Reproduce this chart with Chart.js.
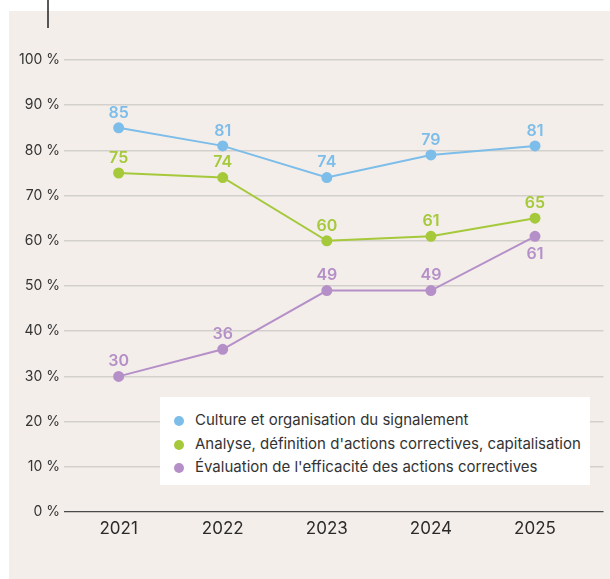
<!DOCTYPE html>
<html>
<head>
<meta charset="utf-8">
<script src="https://cdn.jsdelivr.net/npm/chart.js@4.4.1/dist/chart.umd.min.js"></script>
<style>
  html, body { margin: 0; padding: 0; background: #fff; }
  #wrap { position: relative; width: 610px; height: 579px; }
  #legend {
    position: absolute; left: 160px; top: 397px; width: 430px; height: 88px;
    background: #fff; box-sizing: border-box; padding: 11px 0 0 14px;
    font-family: Inter, "Noto Sans", sans-serif; font-size: 15px; color: #333;
  }
  #legend div { height: 23.5px; line-height: 23.5px; white-space: nowrap; }
  #legend span {
    display: inline-block; width: 10px; height: 10px; border-radius: 50%;
    margin-right: 11px; vertical-align: -1px;
  }
</style>
</head>
<body>
<div id="wrap">
  <canvas id="chart" width="610" height="579"></canvas>
  <div id="legend"></div>
</div>
<script>
const years = [2021, 2022, 2023, 2024, 2025];
const seriesNames = [
    'Culture et organisation du signalement',
    "Analyse, définition d'actions correctives, capitalisation",
    "Évaluation de l'efficacité des actions correctives"
];
const culture = [85, 81, 74, 79, 81];
const analyse = [75, 74, 60, 61, 65];
const evaluation = [30, 36, 49, 49, 61];
const yTicks = [0, 10, 20, 30, 40, 50, 60, 70, 80, 90, 100];
const colors = ['#7dbde9', '#a5c93a', '#b590c8'];

const FONT = 'Inter, "Noto Sans", sans-serif';

function toPoints(values) {
    return values.map((v, i) => ({ x: years[i], y: v }));
}

// beige panel + little black tick at top
const panelPlugin = {
    id: 'panel',
    beforeDraw(chart) {
        const ctx = chart.ctx;
        ctx.save();
        ctx.fillStyle = '#f3eeea';
        ctx.fillRect(9, 11, 601, 568);
        ctx.strokeStyle = '#222';
        ctx.lineWidth = 1.5;
        ctx.beginPath();
        ctx.moveTo(48, 0);
        ctx.lineTo(48, 28);
        ctx.stroke();
        ctx.restore();
    }
};

// value labels above points (below when crowded by a series just above)
const valueLabels = {
    id: 'valueLabels',
    afterDatasetsDraw(chart) {
        const ctx = chart.ctx;
        const all = chart.data.datasets.map(d => d.data.map(p => p.y));
        ctx.save();
        ctx.font = '600 16px ' + FONT;
        ctx.textAlign = 'center';
        ctx.textBaseline = 'middle';
        chart.data.datasets.forEach((ds, di) => {
            const meta = chart.getDatasetMeta(di);
            ctx.fillStyle = ds.borderColor;
            meta.data.forEach((pt, i) => {
                const v = all[di][i];
                const crowded = all.some((vals, j) => j !== di && vals[i] > v && vals[i] - v < 5);
                const y = crowded ? pt.y + 18 : pt.y - 15;
                ctx.fillText(String(v), pt.x, y);
            });
        });
        ctx.restore();
    }
};

const datasets = [culture, analyse, evaluation].map((vals, i) => ({
    label: seriesNames[i],
    data: toPoints(vals),
    borderColor: colors[i],
    backgroundColor: colors[i],
    borderWidth: 2,
    pointRadius: 4.5,
    pointHoverRadius: 4.5,
    tension: 0
}));

const chart = new Chart(document.getElementById('chart'), {
    type: 'line',
    data: { datasets: datasets },
    options: {
        responsive: false,
        animation: false,
        events: [],
        layout: { padding: { top: 60, right: 3, bottom: 37, left: 0 } },
        plugins: {
            legend: { display: false },
            tooltip: { enabled: false }
        },
        scales: {
            x: {
                type: 'linear',
                min: 2020.475,
                max: 2025.658,
                afterBuildTicks: scale => { scale.ticks = years.map(y => ({ value: y })); },
                afterFit: scale => { scale.height = 30; },
                grid: { display: false, drawTicks: false },
                border: { display: false },
                ticks: {
                    padding: 7,
                    color: '#2a2a2a',
                    font: { family: FONT, size: 17 },
                    callback: v => String(v)
                }
            },
            y: {
                min: 0,
                max: 100,
                afterBuildTicks: scale => { scale.ticks = yTicks.map(v => ({ value: v })); },
                afterFit: scale => { scale.width = 64; },
                grid: {
                    drawTicks: false,
                    lineWidth: ctx => ctx.tick && ctx.tick.value === 0 ? 1.2 : 1.5,
                    color: ctx => ctx.tick && ctx.tick.value === 0 ? '#4a4a4a' : '#d3cfcc'
                },
                border: { display: false },
                ticks: {
                    padding: 4,
                    color: '#333',
                    font: { family: FONT, size: 14 },
                    callback: v => v + ' %'
                }
            }
        }
    },
    plugins: [panelPlugin, valueLabels]
});

// legend box
const legend = document.getElementById('legend');
chart.data.datasets.forEach(ds => {
    const row = document.createElement('div');
    const dot = document.createElement('span');
    dot.style.background = ds.backgroundColor;
    row.appendChild(dot);
    row.appendChild(document.createTextNode(ds.label));
    legend.appendChild(row);
});
</script>
</body>
</html>
